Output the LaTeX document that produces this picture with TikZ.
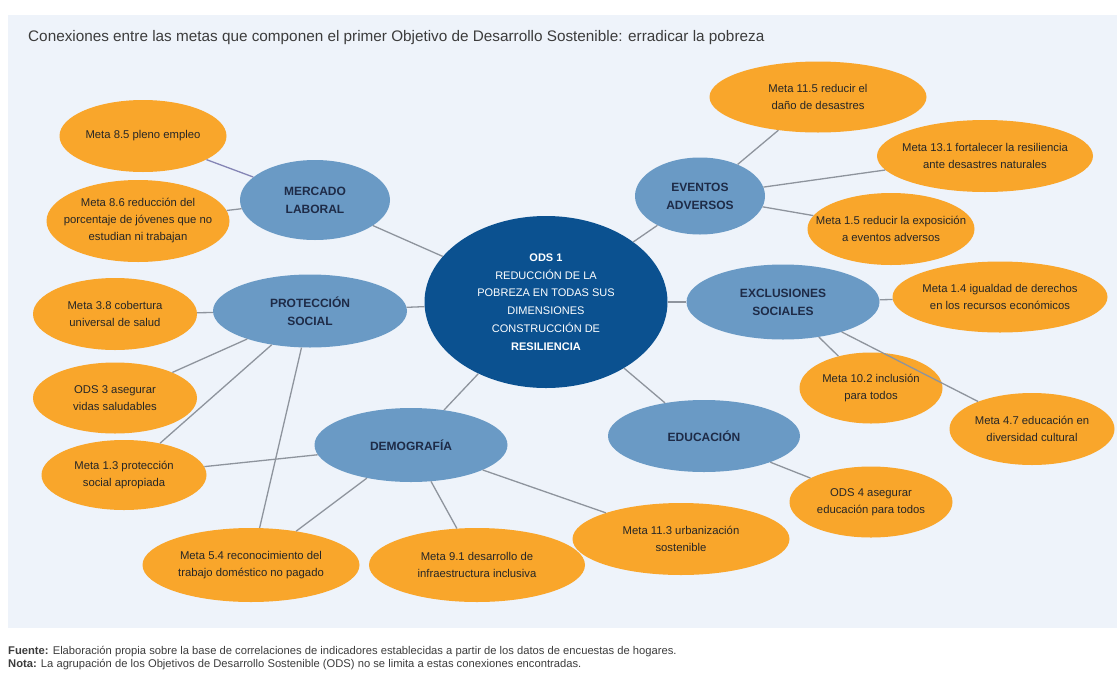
\documentclass[tikz,border=0pt]{standalone}
\usepackage{fontspec}
\setmainfont{Liberation Sans}
\usetikzlibrary{shapes.geometric}
\definecolor{panelbg}{HTML}{EEF3FA}
\definecolor{metaorange}{HTML}{F9A62B}
\definecolor{axisblue}{HTML}{6A9AC5}
\definecolor{odsblue}{HTML}{0B5190}
\definecolor{linkgray}{HTML}{8E949D}
\definecolor{linkblue}{HTML}{8585B5}
\definecolor{labelnavy}{HTML}{1E2B47}
\definecolor{titlegray}{HTML}{3C3C3C}
\tikzset{
    bubble/.style={ellipse, inner sep=-50pt, align=center},
    core/.style={bubble, fill=odsblue, text=white, font=\fontsize{11}{17.7}\selectfont},
    axis/.style={bubble, fill=axisblue, text=labelnavy, font=\fontsize{12}{18}\selectfont\bfseries},
    meta/.style={bubble, fill=metaorange, text=black!85, font=\fontsize{11.3}{17}\selectfont},
    link/.style={draw=linkgray, line width=1.3pt},
    caption/.style={anchor=west, inner sep=0pt, text=titlegray, align=left}
}

\begin{document}
\begin{tikzpicture}[x=1pt, y=-1pt]
        \useasboundingbox (0,0) rectangle (1117,678);
        \fill[panelbg] (8,15) rectangle (1117,628);

        % Title
        \node[caption, font=\fontsize{15.3}{17}\selectfont] (Title) at (28,38) {Conexiones entre las metas que componen el primer Objetivo de Desarrollo Sostenible: erradicar la pobreza};

        % Core goal
        \node[core, minimum width=243pt, minimum height=172pt] (ODS1) at (546,302) {\textbf{ODS 1}\\REDUCCIÓN DE LA\\POBREZA EN TODAS SUS\\DIMENSIONES\\CONSTRUCCIÓN DE\\\textbf{RESILIENCIA}};

        % Dimensions
        \node[axis, minimum width=150pt, minimum height=80pt] (Mercado) at (315,200) {MERCADO\\LABORAL};
        \node[axis, minimum width=194pt, minimum height=73pt] (Proteccion) at (310,311) {PROTECCIÓN\\SOCIAL};
        \node[axis, minimum width=193pt, minimum height=74pt] (Demografia) at (411,445) {DEMOGRAFÍA};
        \node[axis, minimum width=192pt, minimum height=72pt] (Educacion) at (704,436) {EDUCACIÓN};
        \node[axis, minimum width=193pt, minimum height=75pt] (Exclusiones) at (783,302) {EXCLUSIONES\\SOCIALES};
        \node[axis, minimum width=130pt, minimum height=77pt] (Eventos) at (700,196) {EVENTOS\\ADVERSOS};

        % Targets
        \node[meta, minimum width=167pt, minimum height=72pt] (M85) at (143,136) {Meta 8.5 pleno empleo};
        \node[meta, minimum width=183pt, minimum height=82pt] (M86) at (138,221) {Meta 8.6 reducción del\\porcentaje de jóvenes que no\\estudian ni trabajan};
        \node[meta, minimum width=217pt, minimum height=71pt] (M115) at (818,97) {Meta 11.5 reducir el\\daño de desastres};
        \node[meta, minimum width=216pt, minimum height=72pt] (M131) at (985,156) {Meta 13.1 fortalecer la resiliencia\\ante desastres naturales};
        \node[meta, minimum width=167pt, minimum height=72pt] (M15) at (891,229) {Meta 1.5 reducir la exposición\\a eventos adversos};
        \node[meta, minimum width=215pt, minimum height=71pt] (M14) at (1000,297) {Meta 1.4 igualdad de derechos\\en los recursos económicos};
        \node[meta, minimum width=143pt, minimum height=71pt] (M102) at (871,388) {Meta 10.2 inclusión\\para todos};
        \node[meta, minimum width=165pt, minimum height=72pt] (M47) at (1032,429) {Meta 4.7 educación en\\diversidad cultural};
        \node[meta, minimum width=163pt, minimum height=71pt] (ODS4) at (871,502) {ODS 4 asegurar\\educación para todos};
        \node[meta, minimum width=217pt, minimum height=72pt] (M113) at (681,539) {Meta 11.3 urbanización\\sostenible};
        \node[meta, minimum width=216pt, minimum height=74pt] (M91) at (477,565) {Meta 9.1 desarrollo de\\infraestructura inclusiva};
        \node[meta, minimum width=217pt, minimum height=74pt] (M54) at (251,565) {Meta 5.4 reconocimiento del\\trabajo doméstico no pagado};
        \node[meta, minimum width=164pt, minimum height=72pt] (M38) at (115,314) {Meta 3.8 cobertura\\universal de salud};
        \node[meta, minimum width=164pt, minimum height=71pt] (ODS3) at (115,398) {ODS 3 asegurar\\vidas saludables};
        \node[meta, minimum width=165pt, minimum height=70pt] (M13) at (124,475) {Meta 1.3 protección\\social apropiada};

        % Connections
        \draw[link] (ODS1) -- (Mercado);
        \draw[link] (ODS1) -- (Proteccion);
        \draw[link] (ODS1) -- (Demografia);
        \draw[link] (ODS1) -- (Educacion);
        \draw[link] (ODS1) -- (Exclusiones);
        \draw[link] (ODS1) -- (Eventos);

        \draw[link, draw=linkblue] (Mercado) -- (M85);
        \draw[link] (Mercado) -- (M86);

        \draw[link] (Eventos) -- (M115);
        \draw[link] (Eventos) -- (M131);
        \draw[link] (Eventos) -- (M15);

        \draw[link] (Exclusiones) -- (M14);
        \draw[link] (Exclusiones) -- (M102);
        \draw[link] (Exclusiones) -- (M47);

        \draw[link] (Educacion) -- (ODS4);

        \draw[link] (Demografia) -- (M113);
        \draw[link] (Demografia) -- (M91);
        \draw[link] (Demografia) -- (M54);
        \draw[link] (Demografia) -- (M13);

        \draw[link] (Proteccion) -- (M38);
        \draw[link] (Proteccion) -- (ODS3);
        \draw[link] (Proteccion) -- (M13);
        \draw[link] (Proteccion) -- (M54);

        % Notes
        \node[caption, font=\fontsize{11.2}{12.5}\selectfont] (Notes) at (8,658) {\textbf{Fuente:} Elaboración propia sobre la base de correlaciones de indicadores establecidas a partir de los datos de encuestas de hogares.\\\textbf{Nota:} La agrupación de los Objetivos de Desarrollo Sostenible (ODS) no se limita a estas conexiones encontradas.};

    \end{tikzpicture}
\end{document}
